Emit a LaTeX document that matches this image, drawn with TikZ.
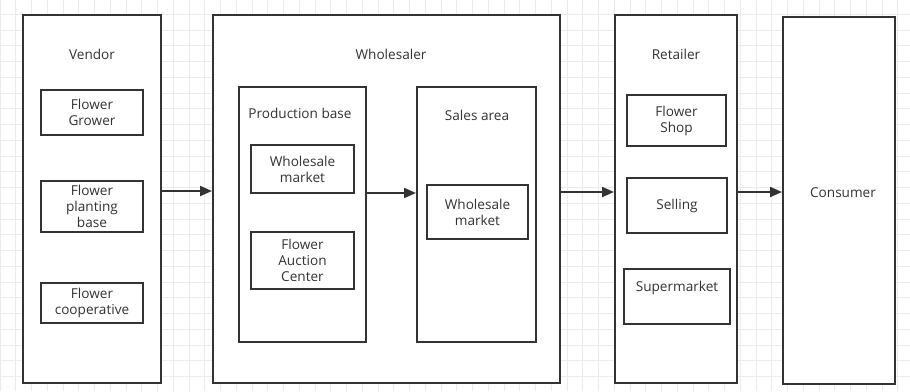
\documentclass[tikz,border=0pt]{standalone}
\usepackage{fontspec}
\setmainfont{Open Sans}
\usetikzlibrary{fit,arrows.meta}
\definecolor{ink}{HTML}{333333}
\definecolor{gridc}{HTML}{EBEBEB}
\begin{document}
\begin{tikzpicture}[x=1pt,y=-1pt,
  box/.style={draw=ink,line width=2pt,fill=white,inner sep=0pt,rectangle},
  lbl/.style={text=ink,font=\fontsize{13.6}{16}\selectfont,align=center,inner sep=0pt},
  arr/.style={draw=ink,line width=2pt,-{Triangle[length=12pt,width=10pt]}}]
  % canvas and background grid
  \fill[white] (0,0) rectangle (910,391);
  \useasboundingbox (0,0) rectangle (910,391);
  \foreach \i in {0,...,57} {\draw[gridc,line width=1pt] (\i*15.75,0) -- (\i*15.75,391);}
  \foreach \j in {1,...,25} {\draw[gridc,line width=1pt] (0,\j*15.75-1.5) -- (910,\j*15.75-1.5);}

  % outer stages
  \node[box,fit={(23,15)(161,383)}] (vendor) {};
  \node[box,fit={(213,15)(560,383)}] (wholesaler) {};
  \node[box,fit={(615,15)(737,383)}] (retailer) {};
  \node[box,fit={(783,17)(895,384)}] (consumer) {};

  % wholesaler sub-areas
  \node[box,fit={(239,87)(366,342)}] (prodbase) {};
  \node[box,fit={(417,87)(536,342)}] (salesarea) {};

  % stage titles
  \node[lbl] (tvendor) at (92,54) {Vendor};
  \node[lbl] (twholesaler) at (391,54) {Wholesaler};
  \node[lbl] (tretailer) at (676,54) {Retailer};
  \node[lbl] (tconsumer) at (843,193) {Consumer};
  \node[lbl] (tprodbase) at (300,113) {Production base};
  \node[lbl] (tsalesarea) at (477,115) {Sales area};

  % vendor members
  \node[box,fit={(41,90)(143,135)}] (grower) {};
  \node[lbl] at (grower.center) {Flower\\Grower};
  \node[box,fit={(41,181)(143,232)}] (planting) {};
  \node[lbl] at (planting.center) {Flower\\planting\\base};
  \node[box,fit={(41,283)(143,323)}] (coop) {};
  \node[lbl] at (coop.center) {Flower\\cooperative};

  % wholesaler members
  \node[box,fit={(251,145)(354,193)}] (wmarketa) {};
  \node[lbl] at (wmarketa.center) {Wholesale\\market};
  \node[box,fit={(251,232)(354,289)}] (auction) {};
  \node[lbl] at (auction.center) {Flower\\Auction\\Center};
  \node[box,fit={(427,185)(528,239)}] (wmarketb) {};
  \node[lbl] at (wmarketb.center) {Wholesale\\market};

  % retailer members
  \node[box,fit={(627,95)(726,146)}] (shop) {};
  \node[lbl] at (shop.center) {Flower\\Shop};
  \node[box,fit={(627,178)(727,233)}] (selling) {};
  \node[lbl] at (selling.center) {Selling};
  \node[box,fit={(624,269)(730,324)}] (market) {};
  \node[lbl] (tmarket) at (677,288) {Supermarket};

  % flow between stages
  \draw[arr] (vendor.east |- 0,191) -- (wholesaler.west |- 0,191);
  \draw[arr] (prodbase.east |- 0,193) -- (salesarea.west |- 0,193);
  \draw[arr] (wholesaler.east |- 0,192) -- (retailer.west |- 0,192);
  \draw[arr] (retailer.east |- 0,192) -- (consumer.west |- 0,192);
\end{tikzpicture}
\end{document}
